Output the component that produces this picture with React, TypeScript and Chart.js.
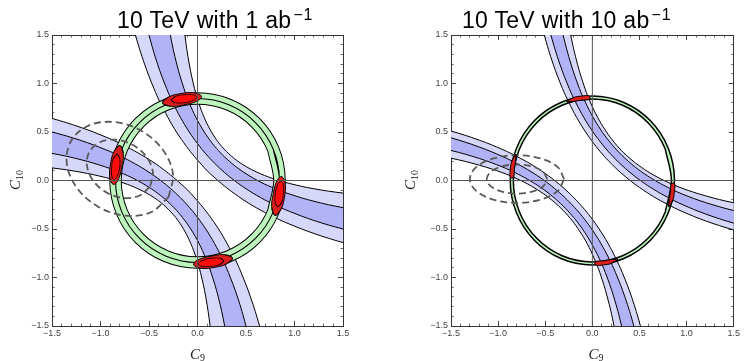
import React, { useEffect, useRef } from 'react';
import { Chart, registerables } from 'chart.js';

Chart.register(...registerables);

type P = [number, number];

// ---------- text ----------
const tickValues = [-1.5, -1.0, -0.5, 0.0, 0.5, 1.0, 1.5];
const tickLabels = ['\u22121.5', '\u22121.0', '\u22120.5', '0.0', '0.5', '1.0', '1.5'];
const titleText = ['10 TeV with 1 ab', '10 TeV with 10 ab'];
const titleExp = '\u22121';
const xName = 'C';
const xSub = '9';
const yName = 'C';
const ySub = '10';

// ---------- left panel (1 ab^-1) : band A (upper-right branch) edges ----------
const L_A1: P[] = [[-0.163,1.8],[-0.130,1.5],[-0.085,1.2],[-0.031,0.95],[0.013,0.8],[0.069,0.65],[0.133,0.52],[0.196,0.42],[0.251,0.35],[0.299,0.299],[0.35,0.251],[0.42,0.196],[0.52,0.133],[0.65,0.069],[0.8,0.013],[0.95,-0.031],[1.2,-0.085],[1.5,-0.130],[1.8,-0.163]];
const L_A2: P[] = [[-0.330,1.8],[-0.280,1.5],[-0.214,1.2],[-0.140,0.95],[-0.084,0.8],[-0.016,0.65],[0.070,0.5],[0.140,0.4],[0.197,0.33],[0.261,0.261],[0.33,0.197],[0.4,0.140],[0.5,0.070],[0.65,-0.016],[0.8,-0.084],[0.95,-0.140],[1.2,-0.214],[1.5,-0.280],[1.8,-0.330]];
const L_A3: P[] = [[-0.571,1.8],[-0.500,1.5],[-0.412,1.2],[-0.319,0.95],[-0.253,0.8],[-0.176,0.65],[-0.085,0.5],[0.0,0.38],[0.081,0.28],[0.177,0.177],[0.28,0.081],[0.38,0.0],[0.5,-0.085],[0.65,-0.176],[0.8,-0.253],[0.95,-0.319],[1.2,-0.412],[1.5,-0.500],[1.8,-0.571]];
const L_A4: P[] = [[-0.717,1.8],[-0.640,1.5],[-0.546,1.2],[-0.450,0.95],[-0.383,0.8],[-0.305,0.65],[-0.217,0.5],[-0.113,0.35],[-0.034,0.25],[0.036,0.17],[0.10,0.10],[0.17,0.036],[0.25,-0.034],[0.35,-0.113],[0.5,-0.217],[0.65,-0.305],[0.8,-0.383],[0.95,-0.450],[1.2,-0.546],[1.5,-0.640],[1.8,-0.717]];
// band B (lower-left branch)
const L_B1: P[] = [[0.163,-1.8],[0.130,-1.5],[0.085,-1.2],[0.031,-0.95],[-0.013,-0.8],[-0.069,-0.65],[-0.133,-0.52],[-0.196,-0.42],[-0.251,-0.35],[-0.299,-0.299],[-0.35,-0.251],[-0.42,-0.196],[-0.52,-0.133],[-0.65,-0.069],[-0.8,-0.013],[-0.95,0.031],[-1.2,0.085],[-1.5,0.130],[-1.8,0.163]];
const L_B2: P[] = [[0.330,-1.8],[0.280,-1.5],[0.214,-1.2],[0.140,-0.95],[0.084,-0.8],[0.016,-0.65],[-0.070,-0.5],[-0.140,-0.4],[-0.197,-0.33],[-0.261,-0.261],[-0.33,-0.197],[-0.4,-0.140],[-0.5,-0.070],[-0.65,0.016],[-0.8,0.084],[-0.95,0.140],[-1.2,0.214],[-1.5,0.280],[-1.8,0.330]];
const L_B3: P[] = [[0.571,-1.8],[0.500,-1.5],[0.412,-1.2],[0.319,-0.95],[0.253,-0.8],[0.176,-0.65],[0.085,-0.5],[0.0,-0.38],[-0.081,-0.28],[-0.177,-0.177],[-0.28,-0.081],[-0.38,0.0],[-0.5,0.085],[-0.65,0.176],[-0.8,0.253],[-0.95,0.319],[-1.2,0.412],[-1.5,0.500],[-1.8,0.571]];
const L_B4: P[] = [[0.717,-1.8],[0.640,-1.5],[0.546,-1.2],[0.450,-0.95],[0.383,-0.8],[0.305,-0.65],[0.217,-0.5],[0.113,-0.35],[0.034,-0.25],[-0.036,-0.17],[-0.10,-0.10],[-0.17,-0.036],[-0.25,0.034],[-0.35,0.113],[-0.5,0.217],[-0.65,0.305],[-0.8,0.383],[-0.95,0.450],[-1.2,0.546],[-1.5,0.640],[-1.8,0.717]];
// ring (centre line of the green annulus)
const L_RING: P[] = [[0.845,0],[0.7807,0.3234],[0.5975,0.5975],[0.3234,0.7807],[0,0.845],[-0.3234,0.7807],[-0.5975,0.5975],[-0.7807,0.3234],[-0.845,0],[-0.7807,-0.3234],[-0.5975,-0.5975],[-0.3234,-0.7807],[0,-0.845],[0.3234,-0.7807],[0.5975,-0.5975],[0.7807,-0.3234]];
// dashed ellipses
const L_ELL_OUT: P[] = [[-0.298,-0.17],[-0.2525,0.064],[-0.354,0.3125],[-0.575,0.510],[-0.856,0.6025],[-1.1225,0.566],[-1.302,0.41],[-1.3475,0.176],[-1.246,-0.0725],[-1.025,-0.2697],[-0.7437,-0.3625],[-0.4775,-0.326]];
const L_ELL_IN: P[] = [[-0.488,-0.06],[-0.46,0.085],[-0.523,0.24],[-0.66,0.3625],[-0.835,0.42],[-1.0,0.397],[-1.112,0.30],[-1.14,0.155],[-1.077,0.0],[-0.94,-0.1225],[-0.765,-0.18],[-0.60,-0.157]];
// red combined regions (outer / inner)
const L_BLOB_T_OUT: P[] = [[-0.36,0.80],[-0.30,0.86],[-0.18,0.895],[-0.04,0.905],[0.04,0.87],[0.0,0.82],[-0.14,0.78],[-0.28,0.765]];
const L_BLOB_T_IN: P[] = [[-0.27,0.83],[-0.22,0.87],[-0.13,0.885],[-0.03,0.88],[-0.01,0.855],[-0.06,0.82],[-0.15,0.80],[-0.24,0.805]];
const L_BLOB_R_OUT: P[] = [[0.80,-0.36],[0.86,-0.30],[0.895,-0.18],[0.905,-0.04],[0.87,0.04],[0.82,0.0],[0.78,-0.14],[0.765,-0.28]];
const L_BLOB_R_IN: P[] = [[0.83,-0.27],[0.87,-0.22],[0.885,-0.13],[0.88,-0.03],[0.855,-0.01],[0.82,-0.06],[0.80,-0.15],[0.805,-0.24]];
const L_BLOB_L_OUT: P[] = [[-0.80,0.36],[-0.86,0.30],[-0.895,0.18],[-0.905,0.04],[-0.87,-0.04],[-0.82,0.0],[-0.78,0.14],[-0.765,0.28]];
const L_BLOB_L_IN: P[] = [[-0.83,0.27],[-0.87,0.22],[-0.885,0.13],[-0.88,0.03],[-0.855,0.01],[-0.82,0.06],[-0.80,0.15],[-0.805,0.24]];
const L_BLOB_B_OUT: P[] = [[0.36,-0.80],[0.30,-0.86],[0.18,-0.895],[0.04,-0.905],[-0.04,-0.87],[0.0,-0.82],[0.14,-0.78],[0.28,-0.765]];
const L_BLOB_B_IN: P[] = [[0.27,-0.83],[0.22,-0.87],[0.13,-0.885],[0.03,-0.88],[0.01,-0.855],[0.06,-0.82],[0.15,-0.80],[0.24,-0.805]];

// ---------- right panel (10 ab^-1) ----------
const R_A1: P[] = [[-0.284,1.8],[-0.230,1.5],[-0.158,1.2],[-0.079,0.95],[-0.018,0.8],[0.056,0.65],[0.136,0.52],[0.210,0.42],[0.261,0.36],[0.309,0.309],[0.36,0.261],[0.42,0.210],[0.52,0.136],[0.65,0.056],[0.8,-0.018],[0.95,-0.079],[1.2,-0.158],[1.5,-0.230],[1.8,-0.284]];
const R_A2: P[] = [[-0.375,1.8],[-0.310,1.5],[-0.227,1.2],[-0.138,0.95],[-0.071,0.8],[0.009,0.65],[0.091,0.52],[0.166,0.42],[0.235,0.34],[0.286,0.286],[0.34,0.235],[0.42,0.166],[0.52,0.091],[0.65,0.009],[0.8,-0.071],[0.95,-0.138],[1.2,-0.227],[1.5,-0.310],[1.8,-0.375]];
const R_A3: P[] = [[-0.516,1.8],[-0.440,1.5],[-0.345,1.2],[-0.246,0.95],[-0.174,0.8],[-0.091,0.65],[-0.007,0.52],[0.083,0.4],[0.168,0.3],[0.233,0.233],[0.3,0.168],[0.4,0.083],[0.52,-0.007],[0.65,-0.091],[0.8,-0.174],[0.95,-0.246],[1.2,-0.345],[1.5,-0.440],[1.8,-0.516]];
const R_A4: P[] = [[-0.586,1.8],[-0.510,1.5],[-0.416,1.2],[-0.318,0.95],[-0.247,0.8],[-0.167,0.65],[-0.072,0.5],[0.016,0.38],[0.108,0.27],[0.187,0.187],[0.27,0.108],[0.38,0.016],[0.5,-0.072],[0.65,-0.167],[0.8,-0.247],[0.95,-0.318],[1.2,-0.416],[1.5,-0.510],[1.8,-0.586]];
const R_B1: P[] = [[0.284,-1.8],[0.230,-1.5],[0.158,-1.2],[0.079,-0.95],[0.018,-0.8],[-0.056,-0.65],[-0.136,-0.52],[-0.210,-0.42],[-0.261,-0.36],[-0.309,-0.309],[-0.36,-0.261],[-0.42,-0.210],[-0.52,-0.136],[-0.65,-0.056],[-0.8,0.018],[-0.95,0.079],[-1.2,0.158],[-1.5,0.230],[-1.8,0.284]];
const R_B2: P[] = [[0.375,-1.8],[0.310,-1.5],[0.227,-1.2],[0.138,-0.95],[0.071,-0.8],[-0.009,-0.65],[-0.091,-0.52],[-0.166,-0.42],[-0.235,-0.34],[-0.286,-0.286],[-0.34,-0.235],[-0.42,-0.166],[-0.52,-0.091],[-0.65,-0.009],[-0.8,0.071],[-0.95,0.138],[-1.2,0.227],[-1.5,0.310],[-1.8,0.375]];
const R_B3: P[] = [[0.516,-1.8],[0.440,-1.5],[0.345,-1.2],[0.246,-0.95],[0.174,-0.8],[0.091,-0.65],[0.007,-0.52],[-0.083,-0.4],[-0.168,-0.3],[-0.233,-0.233],[-0.3,-0.168],[-0.4,-0.083],[-0.52,0.007],[-0.65,0.091],[-0.8,0.174],[-0.95,0.246],[-1.2,0.345],[-1.5,0.440],[-1.8,0.516]];
const R_B4: P[] = [[0.586,-1.8],[0.510,-1.5],[0.416,-1.2],[0.318,-0.95],[0.247,-0.8],[0.167,-0.65],[0.072,-0.5],[-0.016,-0.38],[-0.108,-0.27],[-0.187,-0.187],[-0.27,-0.108],[-0.38,-0.016],[-0.5,0.072],[-0.65,0.167],[-0.8,0.247],[-0.95,0.318],[-1.2,0.416],[-1.5,0.510],[-1.8,0.586]];
const R_RING: P[] = [[0.855,0],[0.7899,0.3272],[0.6046,0.6046],[0.3272,0.7899],[0,0.855],[-0.3272,0.7899],[-0.6046,0.6046],[-0.7899,0.3272],[-0.855,0],[-0.7899,-0.3272],[-0.6046,-0.6046],[-0.3272,-0.7899],[0,-0.855],[0.3272,-0.7899],[0.6046,-0.6046],[0.7899,-0.3272]];
const R_ELL_OUT: P[] = [[-0.30,0.015],[-0.367,0.1375],[-0.55,0.2272],[-0.80,0.26],[-1.05,0.2272],[-1.233,0.1375],[-1.30,0.015],[-1.233,-0.1075],[-1.05,-0.1972],[-0.80,-0.23],[-0.55,-0.1972],[-0.367,-0.1075]];
const R_ELL_IN: P[] = [[-0.48,0.015],[-0.523,0.09],[-0.64,0.145],[-0.80,0.165],[-0.96,0.145],[-1.077,0.09],[-1.12,0.015],[-1.077,-0.06],[-0.96,-0.115],[-0.80,-0.135],[-0.64,-0.115],[-0.523,-0.06]];
const R_BLOB_T: P[] = [[-0.27,0.812],[-0.2,0.855],[-0.12,0.87],[-0.04,0.874],[-0.025,0.855],[-0.04,0.835],[-0.12,0.828],[-0.2,0.815]];
const R_BLOB_R: P[] = [[0.812,-0.27],[0.855,-0.2],[0.87,-0.12],[0.874,-0.04],[0.855,-0.025],[0.835,-0.04],[0.828,-0.12],[0.815,-0.2]];
const R_BLOB_L: P[] = [[-0.812,0.27],[-0.855,0.2],[-0.87,0.12],[-0.874,0.04],[-0.855,0.025],[-0.835,0.04],[-0.828,0.12],[-0.815,0.2]];
const R_BLOB_B: P[] = [[0.27,-0.812],[0.2,-0.855],[0.12,-0.87],[0.04,-0.874],[0.025,-0.855],[0.04,-0.835],[0.12,-0.828],[0.2,-0.815]];

// coordinate axes drawn inside the frame
const X_AXIS_LINE: P[] = [[-1.5,0],[1.5,0]];
const Y_AXIS_LINE: P[] = [[0,-1.5],[0,1.5]];

// ---------- colours ----------
const LIGHT_BLUE = '#d7d7fa';
const DARK_BLUE = '#b2b2f6';
const GREEN = '#bdf4bd';
const RED_OUT = '#dc1e1e';
const RED_IN = '#ff0c0c';
const DASH_GREY = '#5a5a5a';

// ---------- helpers ----------
const xy = (pts: P[]) => pts.map(([x, y]) => ({ x, y }));
const wrapLoop = (pts: P[]): P[] => [pts[pts.length - 1], ...pts, pts[0], pts[1]];
const closeLoop = (pts: P[]): P[] => [...pts, pts[0]];
const bandShape = (a: P[], b: P[]): P[] => [...a, ...b.slice().reverse()];

function shape(pts: P[], fillColor: string, lineColor: string, lineWidth: number, tension: number) {
  return {
    data: xy(pts), showLine: true, fill: 'shape', backgroundColor: fillColor,
    borderColor: lineColor, borderWidth: lineWidth, tension, pointRadius: 0,
    pointHoverRadius: 0, pointHitRadius: 0, clip: 0, borderJoinStyle: 'round',
  };
}
function stroke(pts: P[], color: string, width: number, tension: number, dash: number[] = []) {
  return {
    data: xy(pts), showLine: true, fill: false, backgroundColor: 'rgba(0,0,0,0)',
    borderColor: color, borderWidth: width, tension, borderDash: dash, pointRadius: 0,
    pointHoverRadius: 0, pointHitRadius: 0, clip: 0, borderCapStyle: 'butt',
  };
}

function panelDatasets(i: number) {
  const left = i === 0;
  const A = left ? [L_A1, L_A2, L_A3, L_A4] : [R_A1, R_A2, R_A3, R_A4];
  const B = left ? [L_B1, L_B2, L_B3, L_B4] : [R_B1, R_B2, R_B3, R_B4];
  const ring = wrapLoop(left ? L_RING : R_RING);
  const list: any[] = [
    shape(bandShape(A[0], A[3]), LIGHT_BLUE, '#000', 1, 0.4),
    shape(bandShape(B[0], B[3]), LIGHT_BLUE, '#000', 1, 0.4),
    shape(bandShape(A[1], A[2]), DARK_BLUE, '#000', 1, 0.4),
    shape(bandShape(B[1], B[2]), DARK_BLUE, '#000', 1, 0.4),
  ];
  if (left) {
    list.push(stroke(ring, '#000', 12.5, 0.35));
    list.push(stroke(ring, GREEN, 10.5, 0.35));
    list.push(stroke(ring, '#000', 1.1, 0.35));
    list.push(stroke(closeLoop(L_ELL_OUT), DASH_GREY, 1.8, 0.35, [7, 4]));
    list.push(stroke(closeLoop(L_ELL_IN), DASH_GREY, 1.8, 0.35, [7, 4]));
    const blobs = [
      [L_BLOB_T_OUT, L_BLOB_T_IN], [L_BLOB_R_OUT, L_BLOB_R_IN],
      [L_BLOB_L_OUT, L_BLOB_L_IN], [L_BLOB_B_OUT, L_BLOB_B_IN],
    ];
    for (const [o, n] of blobs) {
      list.push(shape(wrapLoop(o), RED_OUT, '#000', 0.9, 0.4));
      list.push(shape(wrapLoop(n), RED_IN, '#000', 0.8, 0.4));
    }
  } else {
    list.push(stroke(ring, '#000', 4.6, 0.35));
    list.push(stroke(ring, GREEN, 1.6, 0.35));
    list.push(stroke(closeLoop(R_ELL_OUT), DASH_GREY, 1.8, 0.35, [7, 4]));
    list.push(stroke(closeLoop(R_ELL_IN), DASH_GREY, 1.8, 0.35, [7, 4]));
    for (const b of [R_BLOB_T, R_BLOB_R, R_BLOB_L, R_BLOB_B]) {
      list.push(shape(wrapLoop(b), RED_OUT, '#000', 0.9, 0.4));
    }
  }
  list.push(stroke(X_AXIS_LINE, '#555', 1, 0));
  list.push(stroke(Y_AXIS_LINE, '#555', 1, 0));
  const n = list.length;
  return list.map((d, k) => ({ ...d, order: n - k }));
}

const tickFont = { family: '"Liberation Sans", Arial, sans-serif', size: 9 };

function scalesFor(leftW: number, rightW: number) {
  const common = { type: 'linear', min: -1.5, max: 1.5, z: 1 };
  const major = (pos: string, size: number, labels: boolean) => ({
    ...common,
    position: pos,
    weight: 1,
    ticks: {
      display: labels, stepSize: 0.5, autoSkip: false, maxRotation: 0, minRotation: 0,
      padding: pos === 'left' ? 8 : 7, color: '#444', font: tickFont,
      callback: (v: number) => {
        const k = tickValues.findIndex((t) => Math.abs(t - v) < 1e-6);
        return k >= 0 ? tickLabels[k] : '';
      },
    },
    grid: { display: true, drawOnChartArea: false, drawTicks: true, tickLength: -5, tickColor: '#444', tickWidth: 1 },
    border: { display: true, color: '#333', width: 1 },
    afterFit: (s: any) => { if (s.isHorizontal()) s.height = size; else s.width = size; },
  });
  const minor = (pos: string) => ({
    ...common,
    position: pos,
    weight: 0,
    ticks: { display: false, stepSize: 0.1, autoSkip: false },
    grid: { display: true, drawOnChartArea: false, drawTicks: true, tickLength: -2.5, tickColor: '#444', tickWidth: 0.8 },
    border: { display: false },
    afterFit: (s: any) => { if (s.isHorizontal()) s.height = 0; else s.width = 0; },
  });
  return {
    x: major('bottom', 35, true),
    y: major('left', leftW, true),
    xt: major('top', 35, false),
    yr: major('right', rightW, false),
    xm: minor('bottom'),
    ym: minor('left'),
    xtm: minor('top'),
    yrm: minor('right'),
  };
}

const PANELS = [
  { left: 0, width: 373, axisLeft: 52, axisRight: 30, titleLeft: 117, plotCenter: 197.5, yLabelX: 16 },
  { left: 373, width: 374, axisLeft: 78, axisRight: 6, titleLeft: 462, plotCenter: 596, yLabelX: 411 },
];

function Panel({ index }: { index: number }) {
  const ref = useRef<HTMLCanvasElement>(null);
  const p = PANELS[index];
  useEffect(() => {
    if (!ref.current) return;
    const chart = new Chart(ref.current, {
      type: 'scatter',
      data: { datasets: panelDatasets(index) as any },
      options: {
        responsive: false,
        maintainAspectRatio: false,
        animation: false,
        devicePixelRatio: 1,
        events: [],
        layout: { padding: 0, autoPadding: false },
        elements: { point: { radius: 0 }, line: { capBezierPoints: false } },
        plugins: {
          legend: { display: false },
          tooltip: { enabled: false },
          title: { display: false },
          colors: { enabled: false },
          filler: { propagate: false },
        },
        scales: scalesFor(p.axisLeft, p.axisRight) as any,
      } as any,
    });
    return () => chart.destroy();
  }, [index]);
  return (
    <canvas
      ref={ref}
      width={p.width}
      height={361}
      style={{ position: 'absolute', left: p.left, top: 0, width: p.width, height: 361, display: 'block' }}
    />
  );
}

export default function App() {
  return (
    <div style={{ position: 'absolute', left: 0, top: 0, width: 747, height: 361, background: '#fff', overflow: 'hidden' }}>
      <Panel index={0} />
      <Panel index={1} />
      {PANELS.map((p, i) => (
        <React.Fragment key={i}>
          <div
            style={{
              position: 'absolute', left: p.titleLeft, top: 9, whiteSpace: 'nowrap',
              fontFamily: '"Liberation Sans", Arial, sans-serif', fontSize: 23, lineHeight: '23px',
              letterSpacing: '0.3px', color: '#000',
            }}
          >
            {titleText[i]}
            <span style={{ fontSize: 16, position: 'relative', top: -8, marginLeft: 2, letterSpacing: '0.8px' }}>{titleExp}</span>
          </div>
          <div
            style={{
              position: 'absolute', left: p.plotCenter, top: 346.5, transform: 'translateX(-50%)',
              whiteSpace: 'nowrap', fontFamily: '"Liberation Serif", "DejaVu Serif", serif', fontSize: 15,
              lineHeight: '15px', color: '#222',
            }}
          >
            <i>{xName}</i>
            <span style={{ fontSize: 10, position: 'relative', top: 2 }}>{xSub}</span>
          </div>
          <div
            style={{
              position: 'absolute', left: p.yLabelX, top: 180, transform: 'translate(-50%, -50%) rotate(-90deg)',
              whiteSpace: 'nowrap', fontFamily: '"Liberation Serif", "DejaVu Serif", serif', fontSize: 15,
              lineHeight: '15px', color: '#222',
            }}
          >
            <i>{yName}</i>
            <span style={{ fontSize: 10, position: 'relative', top: 3 }}>{ySub}</span>
          </div>
        </React.Fragment>
      ))}
    </div>
  );
}
